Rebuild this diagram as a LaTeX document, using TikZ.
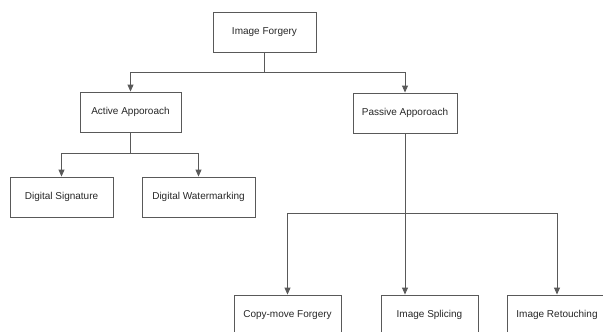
\documentclass[tikz,border=0pt]{standalone}
\usepackage{fontspec}
\setmainfont{Liberation Sans}
\usetikzlibrary{arrows.meta, positioning, calc}

\begin{document}
\begin{tikzpicture}[x=1pt, y=-1pt,
    block/.style={draw=black!65, line width=0.9pt, minimum height=40pt, align=center, inner sep=2pt,
        font=\fontsize{10}{12}\selectfont, text=black!85},
    thinarrow/.style={-{Triangle[length=7pt,width=6pt]}, draw=black!65, line width=0.9pt},
    thinline/.style={draw=black!65, line width=0.9pt}
]
    \useasboundingbox (0,0) rectangle (603,332);
    \clip (0,0) rectangle (603,332);

    % Root
    \node[block, minimum width=103pt] (forgery) at (264.5,32) {Image Forgery};

    % Approaches
    \node[block, minimum width=101pt] (active) at (130.5,112) {Active Apporoach};
    \node[block, minimum width=104pt] (passive) at (405,113) {Passive Apporoach};

    % Active methods
    \node[block, minimum width=103pt] (sign) at (61.5,197) {Digital Signature};
    \node[block, minimum width=113pt] (water) at (198.5,197) {Digital Watermarking};

    % Passive methods
    \node[block, minimum width=107pt] (copymove) at (287.5,315) {Copy-move Forgery};
    \node[block, minimum width=97pt] (splicing) at (429.5,315) {Image Splicing};
    \node[block, minimum width=100pt] (retouch) at (557,315) {Image Retouching};

    % Bus points
    \coordinate (bus1) at ($(forgery.south)+(0,20)$);
    \coordinate (bus2) at ($(active.south)+(0,21)$);
    \coordinate (bus3) at ($(passive.south)+(0,80)$);

    % Arrows
    \draw[thinline] (forgery.south) -- (bus1);
    \draw[thinarrow] (bus1) -| (active.north);
    \draw[thinarrow] (bus1) -| (passive.north);

    \draw[thinline] (active.south) -- (bus2);
    \draw[thinarrow] (bus2) -| (sign.north);
    \draw[thinarrow] (bus2) -| (water.north);

    \draw[thinline] (passive.south) -- (bus3);
    \draw[thinarrow] (bus3) -| (copymove.north);
    \draw[thinarrow] (bus3) -- (bus3 |- splicing.north);
    \draw[thinarrow] (bus3) -| (retouch.north);
\end{tikzpicture}
\end{document}
